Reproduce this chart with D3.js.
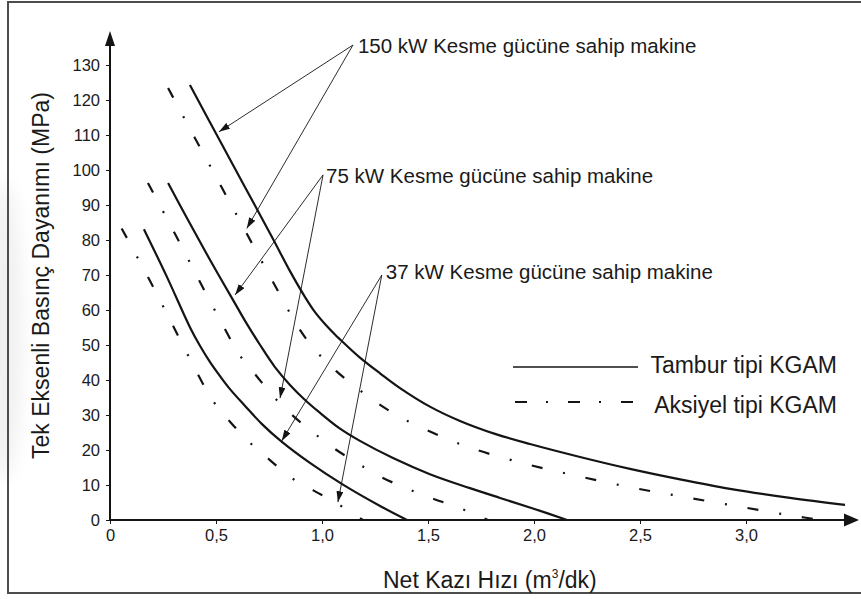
<!DOCTYPE html>
<html>
<head>
<meta charset="utf-8">
<script src="https://cdn.jsdelivr.net/npm/d3@7"></script>
<style>
  html, body { margin: 0; padding: 0; background: #fff; }
  svg { display: block; }
  text { font-family: "Liberation Sans", Arial, Helvetica, sans-serif; fill: #1a1a1a; }
</style>
</head>
<body>
<svg id="chart" width="861" height="599"></svg>
<script>
// Axis ticks
const xTickValues = [0, 0.5, 1.0, 1.5, 2.0, 2.5, 3.0];
const xTickLabels = ["0", "0,5", "1,0", "1,5", "2,0", "2,5", "3,0"];
const yTickValues = [0, 10, 20, 30, 40, 50, 60, 70, 80, 90, 100, 110, 120, 130];

// Net kazı hızı (m3/dk) vs. tek eksenli basınç dayanımı (MPa)
// Tambur tipi KGAM
const tambur150 = [[0.377,124.3],[0.509,109.4],[0.637,95.1],[0.769,80.3],[0.849,71.1],[0.920,63.7],[0.967,59.4],
  [1.014,56.0],[1.061,53.0],[1.108,50.3],[1.179,46.4],[1.274,41.9],[1.368,37.7],[1.509,32.4],[1.651,28.3],
  [1.816,24.6],[1.981,21.7],[2.217,18.0],[2.453,14.6],[2.689,11.6],[2.925,8.9],[3.208,6.3],[3.467,4.3]];
const tambur75 = [[0.274,96.3],[0.368,85.7],[0.472,74.3],[0.580,62.9],[0.637,56.9],[0.708,50.0],[0.778,43.7],
  [0.849,38.6],[0.920,34.3],[0.991,30.6],[1.085,26.1],[1.179,22.6],[1.335,17.7],[1.509,13.1],[1.698,9.1],
  [1.840,6.3],[1.995,3.3],[2.156,0]];
const tambur37 = [[0.160,83.1],[0.269,69.4],[0.377,55.1],[0.425,49.7],[0.472,45.1],[0.519,41.1],[0.566,37.4],
  [0.637,32.6],[0.717,27.4],[0.811,22.3],[0.943,16.3],[1.099,10.1],[1.274,4.0],[1.401,0]];

// Aksiyel tipi KGAM
const aksiyel150 = [[0.274,123.4],[0.401,109.1],[0.528,94.9],[0.646,81.7],[0.769,68.0],[0.896,54.3],[0.976,48.0],
  [1.066,42.6],[1.165,37.7],[1.269,33.1],[1.377,29.1],[1.495,25.7],[1.613,22.6],[1.731,20.0],[1.981,15.7],
  [2.226,12.3],[2.476,9.1],[2.726,6.4],[2.981,3.7],[3.231,1.1],[3.358,0]];
const aksiyel75 = [[0.179,96.3],[0.307,81.7],[0.427,67.7],[0.547,54.0],[0.608,47.4],[0.689,41.3],[0.769,35.4],
  [0.861,29.9],[0.958,25.0],[1.061,20.3],[1.165,16.3],[1.278,12.3],[1.396,9.1],[1.514,6.3],[1.637,3.7],[1.783,0]];
const aksiyel37 = [[0.055,83.3],[0.189,68.3],[0.305,54.6],[0.420,41.0],[0.486,34.0],[0.566,28.1],[0.656,22.3],
  [0.753,17.2],[0.849,12.3],[0.961,8.4],[1.071,4.7],[1.193,0]];

const seriesNames = ["Tambur tipi KGAM", "Aksiyel tipi KGAM"];
const powerLabels = ["150 kW Kesme gücüne sahip makine", "75 kW Kesme gücüne sahip makine", "37 kW Kesme gücüne sahip makine"];
// Points (data space) each callout arrow points to: [solid curve, dash-dot curve]
const calloutTargets = [
  [[0.514, 110.9], [0.645, 83.3]],
  [[0.590, 64.3], [0.802, 34.8]],
  [[0.810, 22.6], [1.075, 5.1]]
];
// Where each callout's leader lines start (data space)
const calloutOrigins = [[1.146, 135.7], [1.005, 98.6], [1.282, 70.0]];

const svg = d3.select("#chart");
const x = d3.scaleLinear().domain([0, 3.0]).range([110, 746]);
const y = d3.scaleLinear().domain([0, 130]).range([520, 65]);
const ink = "#141414";

const defs = svg.append("defs");
defs.append("filter").attr("id", "soft").attr("x", "-100%").attr("y", "-50%")
  .attr("width", "300%").attr("height", "200%")
  .append("feGaussianBlur").attr("stdDeviation", 9);
defs.append("marker")
  .attr("id", "arrowhead")
  .attr("markerUnits", "userSpaceOnUse")
  .attr("viewBox", "0 0 11 7")
  .attr("refX", 11).attr("refY", 3.5)
  .attr("markerWidth", 11).attr("markerHeight", 7)
  .attr("orient", "auto")
  .append("path").attr("d", "M0,0 L11,3.5 L0,7 Z").attr("fill", ink);

// faint grey smudge along the left margin
svg.append("ellipse").attr("cx", 4).attr("cy", 330).attr("rx", 18).attr("ry", 150)
  .attr("fill", "#000").attr("opacity", 0.06).attr("filter", "url(#soft)");

// outer frame (open on the right)
svg.append("path")
  .attr("d", "M870,2 H8 V593 H870")
  .attr("fill", "none").attr("stroke", "#4d4d4d").attr("stroke-width", 2);

// curves
const line = d3.line().x(d => x(d[0])).y(d => y(d[1])).curve(d3.curveCatmullRom.alpha(0.5));
const dashDot = "11,21,2,21";
const plot = svg.append("g");
[tambur150, tambur75, tambur37].forEach(s => {
  plot.append("path").attr("d", line(s)).attr("fill", "none")
    .attr("stroke", ink).attr("stroke-width", 2.2);
});
[aksiyel150, aksiyel75, aksiyel37].forEach(s => {
  plot.append("path").attr("d", line(s)).attr("fill", "none")
    .attr("stroke", ink).attr("stroke-width", 2.2).attr("stroke-dasharray", dashDot);
});

// axes
const xAxis = d3.axisBottom(x).tickValues(xTickValues)
  .tickFormat((d, i) => xTickLabels[i]).tickSize(4).tickPadding(5);
const gx = svg.append("g").attr("transform", `translate(0,${y(0)})`).call(xAxis);
const yAxis = d3.axisLeft(y).tickValues(yTickValues).tickSize(4).tickPadding(6);
const gy = svg.append("g").attr("transform", `translate(${x(0)},0)`).call(yAxis);
[gx, gy].forEach(g => {
  g.select(".domain").remove();
  g.selectAll(".tick line").attr("stroke", ink).attr("stroke-width", 1);
  g.selectAll(".tick text").attr("font-size", 16.5).attr("fill", "#1a1a1a")
    .attr("font-family", "Liberation Sans, Arial, sans-serif");
});

// axis lines with arrowheads
const x0 = x(0), y0 = y(0);
svg.append("line").attr("x1", x0 - 1).attr("y1", y0).attr("x2", 846).attr("y2", y0)
  .attr("stroke", ink).attr("stroke-width", 2);
svg.append("path").attr("d", `M844,${y0 - 6.5} L859,${y0} L844,${y0 + 6.5} Z`).attr("fill", ink);
svg.append("line").attr("x1", x0).attr("y1", y0 + 1).attr("x2", x0).attr("y2", 44)
  .attr("stroke", ink).attr("stroke-width", 2);
svg.append("path").attr("d", `M${x0 - 5},46 L${x0},31 L${x0 + 5},46 Z`).attr("fill", ink);

// axis titles
svg.append("text")
  .attr("transform", "translate(49,275.5) rotate(-90)")
  .attr("text-anchor", "middle").attr("font-size", 23)
  .text("Tek Eksenli Basınç Dayanımı (MPa)");
const xt = svg.append("text").attr("x", 383).attr("y", 588).attr("font-size", 23);
xt.append("tspan").text("Net Kazı Hızı (m");
xt.append("tspan").attr("font-size", 12).attr("dy", -10).text("3");
xt.append("tspan").attr("dy", 10).text("/dk)");

// callouts
const labelOffsets = [[5, 8], [3, 8], [4, 4]];
powerLabels.forEach((lbl, i) => {
  const o = calloutOrigins[i];
  const ox = x(o[0]), oy = y(o[1]);
  calloutTargets[i].forEach(t => {
    svg.append("line").attr("x1", ox).attr("y1", oy).attr("x2", x(t[0])).attr("y2", y(t[1]))
      .attr("stroke", ink).attr("stroke-width", 0.9).attr("marker-end", "url(#arrowhead)");
  });
  svg.append("text").attr("x", ox + labelOffsets[i][0]).attr("y", oy + labelOffsets[i][1])
    .attr("font-size", 20.5).text(lbl);
});

// legend
const lg = svg.append("g");
lg.append("line").attr("x1", 513).attr("y1", 367).attr("x2", 638).attr("y2", 367)
  .attr("stroke", ink).attr("stroke-width", 1.3);
lg.append("line").attr("x1", 515).attr("y1", 402).attr("x2", 634).attr("y2", 402)
  .attr("stroke", ink).attr("stroke-width", 2).attr("stroke-dasharray", "12,19,2,20");
lg.append("text").attr("x", 837).attr("y", 373).attr("text-anchor", "end")
  .attr("font-size", 23).text(seriesNames[0]);
lg.append("text").attr("x", 837).attr("y", 413).attr("text-anchor", "end")
  .attr("font-size", 23).text(seriesNames[1]);
</script>
</body>
</html>
